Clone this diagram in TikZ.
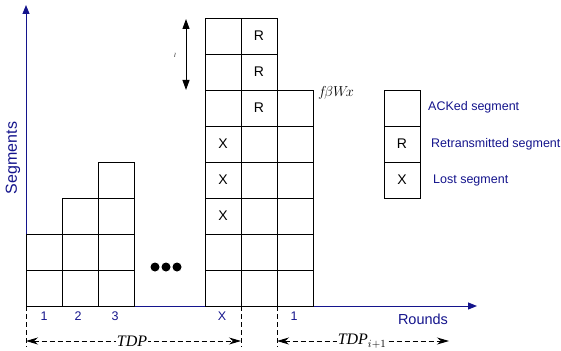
\documentclass[tikz,border=0pt]{standalone}
\usepackage{fontspec}
\setmainfont{Liberation Serif}
\setsansfont{Liberation Sans}
\usetikzlibrary{arrows.meta}
\definecolor{axisblue}{RGB}{20,20,140}
\begin{document}
\begin{tikzpicture}[x=1pt,y=-1pt,
  cell/.style={draw, minimum width=36pt, minimum height=36pt, inner sep=0pt,
    line width=0.8pt, font=\sffamily\fontsize{14}{14}\selectfont},
  celltag/.style={font=\sffamily\fontsize{14}{14}\selectfont},
  axisline/.style={draw=axisblue, line width=1pt, -{Triangle[length=9pt,width=7pt]}},
  bluetext/.style={text=axisblue, font=\sffamily\fontsize{#1}{#1}\selectfont},
  bluetext/.default=12.5,
  roundno/.style={bluetext=12.5},
  spanarrow/.style={dash pattern=on 5pt off 3pt, line width=1pt,
    {Stealth[length=12pt,width=7pt]}-{Stealth[length=12pt,width=7pt]}},
  tickline/.style={dash pattern=on 5pt off 3pt, line width=1pt},
  spanlabel/.style={fill=white, inner sep=1pt, font=\itshape\fontsize{16}{16}\selectfont},
  blackdot/.style={circle, fill=black, minimum size=9pt, inner sep=0pt}]
\useasboundingbox (0,0) rectangle (561,350);

% axes
\coordinate (O) at (26,306);
\coordinate (ytop) at (26,5);
\coordinate (xend) at (477,306);
\draw[axisline] (O) -- (ytop);
\draw[axisline] (O) -- (xend);
\node[bluetext=16, rotate=90] (ylab) at (13,158) {Segments};
\node[bluetext=14.5] (xlab) at (423,319) {Rounds};

% stacks of segments per round
\foreach \c/\x/\n in {a/44/2, b/80/3, c/116/4, d/223/8, e/259/8, f/295/6}
  \foreach \r in {1,...,\n}
    \node[cell] (\c\r) at (\x,{324-36*\r}) {};

\foreach \r in {3,4,5} \node[celltag] at (d\r) {X};
\foreach \r in {6,7,8} \node[celltag] at (e\r) {R};

% rounds not shown
\node[blackdot] (dot1) at (155,267) {};
\node[blackdot] (dot2) at (166,267) {};
\node[blackdot] (dot3) at (177,267) {};

% round numbers
\node[roundno] (n1) at (44,316) {1};
\node[roundno] (n2) at (78,316) {2};
\node[roundno] (n3) at (115,316) {3};
\node[roundno] (nx) at (222,316) {X};
\node[roundno] (n4) at (294,316) {1};

% window height marker
\coordinate (wtop) at (186,19);
\coordinate (wbot) at (186,90);
\draw[line width=1pt, {Triangle[length=10pt,width=7pt]}-{Triangle[length=10pt,width=7pt]}] (wtop) -- (wbot);
\node[font=\itshape\fontsize{6}{6}\selectfont] (wl) at (175,55) {l};
\node[font=\itshape\fontsize{15}{15}\selectfont, anchor=west, inner sep=0pt] (fw) at (318,93) {$f\!\beta W\!x$};

% period spans
\coordinate (t0) at (26,306);
\coordinate (t1) at (241,306);
\coordinate (t2) at (277,306);
\coordinate (b0) at (26,347);
\coordinate (b1) at (241,347);
\coordinate (b2) at (277,347);
\coordinate (a0) at (26,341);
\coordinate (a1) at (241,341);
\coordinate (a2) at (277,341);
\coordinate (a3) at (449,341);
\draw[tickline] (t0) -- (b0);
\draw[tickline] (t1) -- (b1);
\draw[tickline] (t2) -- (b2);
\draw[spanarrow] (a0) -- (a1);
\draw[spanarrow] (a2) -- (a3);
\node[spanlabel] (p1) at (132,341) {TDP};
\node[spanlabel] (p2) at (362,341) {TDP$_{i+1}$};

% legend
\node[cell] (k1) at (402,108) {};
\node[cell] (k2) at (402,144) {R};
\node[cell] (k3) at (402,180) {X};
\node[bluetext, anchor=west, inner sep=0pt] (l1) at (428,107) {ACKed segment};
\node[bluetext, anchor=west, inner sep=0pt] (l2) at (431,144) {Retransmitted segment};
\node[bluetext, anchor=west, inner sep=0pt] (l3) at (433,180) {Lost segment};
\end{tikzpicture}
\end{document}
